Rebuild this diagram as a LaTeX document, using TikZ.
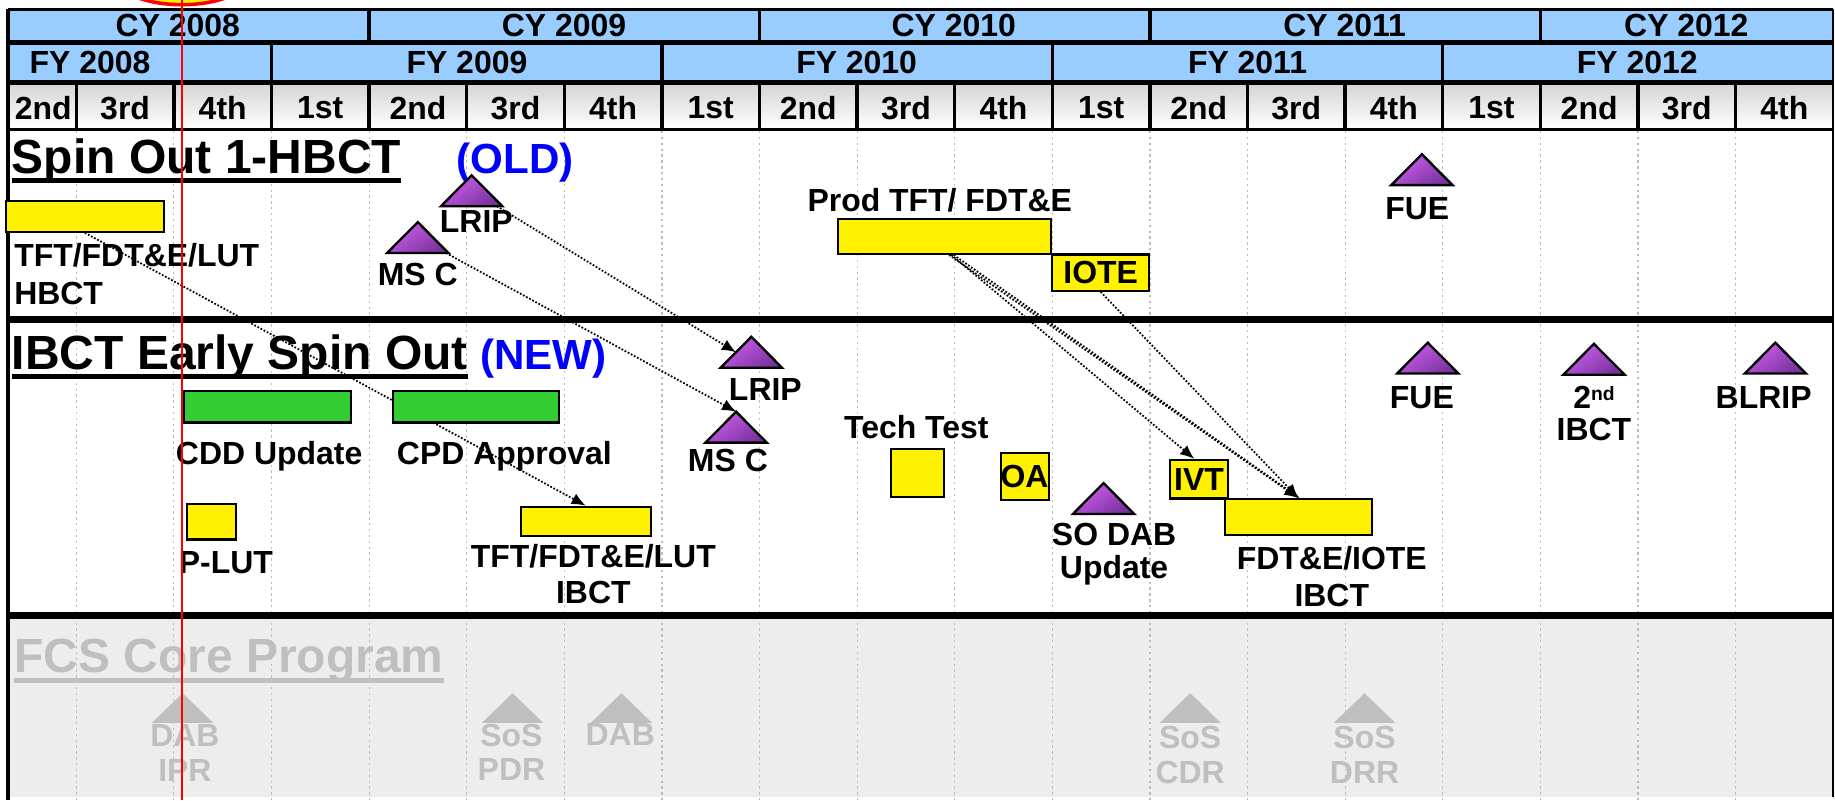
\documentclass[tikz,border=0pt]{standalone}
\usepackage{fontspec}
\setmainfont{Liberation Sans}
\usetikzlibrary{calc}
\usetikzlibrary{arrows.meta}
\usetikzlibrary{backgrounds}

\definecolor{hdrblue}{RGB}{153,204,255}
\definecolor{qgrey}{RGB}{212,212,212}
\definecolor{bargreen}{RGB}{51,204,51}
\definecolor{msTop}{RGB}{205,95,240}
\definecolor{msBot}{RGB}{120,50,155}
\definecolor{fcsgrey}{RGB}{191,191,191}
\definecolor{fcsback}{RGB}{237,237,237}
\definecolor{gridgrey}{RGB}{190,190,190}

\tikzset{
  hdr/.style={font=\fontsize{27.3}{31}\selectfont\bfseries, inner sep=0},
  lbl/.style={font=\fontsize{27.3}{31}\selectfont\bfseries, align=center, inner sep=0, anchor=north},
  ttl/.style={font=\fontsize{41}{48}\selectfont\bfseries, inner sep=0, anchor=base west},
  tag/.style={font=\fontsize{36}{42}\selectfont\bfseries, inner sep=0, anchor=base west, text=blue},
  uline/.style={line width=4pt},
  bar/.style={draw, line width=1.8pt, inner sep=0, fill=yellow, font=\fontsize{27.3}{31}\selectfont\bfseries},
  mbox/.style={inner sep=0, minimum width=52pt, minimum height=26pt},
  mstone/.style={draw, line width=2pt, top color=msTop, bottom color=msBot, shading angle=35},
  gbox/.style={inner sep=0, minimum width=52pt, minimum height=25pt},
  link/.style={line width=1.5pt, dash pattern=on 1.5pt off 1.5pt, -{Latex[length=12pt,width=10pt]}},
  qline/.style={gridgrey, line width=1pt, dash pattern=on 2pt off 3pt},
}

\begin{document}
\begin{tikzpicture}[x=1pt, y=-1pt]
\useasboundingbox (0,0) rectangle (1568,684);

% header
\fill[hdrblue] (8,8) rectangle (1566,36);
\fill[hdrblue] (8,37) rectangle (1566,70);
\shade[top color=qgrey, bottom color=white] (8,71) rectangle (1566,110);
\draw[line width=2pt] (7,8) -- (1566,8);
\draw[line width=4pt] (7,36.5) -- (1566,36.5);
\draw[line width=5pt] (7,70.5) -- (1566,70.5);
\draw[line width=3pt] (7,110.5) -- (1566,110.5);
\foreach \i in {1,5,9,13}
  \draw[line width=3pt] ({232+83.4*\i},8) -- ({232+83.4*\i},36.5);
\foreach \i in {0,4,8,12}
  \draw[line width=3pt] ({232+83.4*\i},36.5) -- ({232+83.4*\i},70.5);
\foreach \i in {-2,...,15}
  \draw[line width=3pt] ({232+83.4*\i},70.5) -- ({232+83.4*\i},110.5);
\draw[line width=3pt] (7,8) -- (7,684);
\draw[line width=1.5pt] (1566,8) -- (1566,681);

\foreach \y/\x in {2008/152,2009/482,2010/815,2011/1149,2012/1441}
  \node[hdr] (cy\y) at (\x,21.5) {CY \y};
\foreach \y/\x in {2008/77,2009/399,2010/732,2011/1066,2012/1399}
  \node[hdr] (fy\y) at (\x,53.5) {FY \y};
\node[hdr] (q-3) at (37,92) {2nd};
\foreach \q [count=\i from -2] in {3rd,4th,1st,2nd,3rd,4th,1st,2nd,3rd,4th,1st,2nd,3rd,4th,1st,2nd,3rd,4th}
  \node[hdr] (q\i) at ({273.7+83.4*\i},92) {\q};

% sections
\draw[line width=6pt] (7,273) -- (1566,273);
\draw[line width=6pt] (7,526) -- (1566,526);

\node[ttl] (spin) at (10,148) {Spin Out 1-HBCT};
\draw[uline] ([yshift=-6pt]spin.base west) -- ([yshift=-6pt]spin.base east);
\node[tag] (old) at (390,148) {(OLD)};
\node[ttl] (early) at (10,316) {IBCT Early Spin Out};
\draw[uline] ([yshift=-6pt]early.base west) -- ([yshift=-6pt]early.base east);
\node[tag] (new) at (410,316) {(NEW)};
\node[ttl, text=fcsgrey] (fcs) at (12,575) {FCS Core Program};
\draw[uline, fcsgrey] ([yshift=-6.5pt]fcs.base west) -- ([yshift=-6.5pt]fcs.base east);

% bars
\node[bar, minimum width=135pt, minimum height=26pt] (tftA) at (72.5,185) {};
\node[bar, minimum width=182pt, minimum height=30pt] (prod) at (807,202) {};
\node[bar, minimum width=83pt, minimum height=31pt] (iote) at (940.5,233) {IOTE};
\node[bar, fill=bargreen, minimum width=143pt, minimum height=27pt] (cdd) at (228.5,347.5) {};
\node[bar, fill=bargreen, minimum width=142pt, minimum height=27pt] (cpd) at (407,347.5) {};
\node[bar, minimum width=42pt, minimum height=30pt] (plut) at (181,446) {};
\node[bar, minimum width=111pt, minimum height=25pt] (tftB) at (500.5,445.5) {};
\node[bar, minimum width=46pt, minimum height=41pt] (tech) at (784,404) {};
\node[bar, minimum width=37pt, minimum height=40pt] (oa) at (875.5,407) {OA};
\node[bar, minimum width=49pt, minimum height=33pt] (ivt) at (1024.5,409.5) {IVT};
\node[bar, minimum width=125pt, minimum height=31pt] (fdt) at (1109.5,442) {};

% milestones
\foreach \n/\x/\y in {lripA/403/163, mscA/357/203, fueA/1215/145, lripB/642/301, mscB/629/365,
    sodab/943/426, fueB/1220/306, ibct2/1362/307, blrip/1517/306} {
  \node[mbox] (\n) at (\x,\y) {};
  \path[mstone] (\n.south west) -- (\n.north) -- (\n.south east) -- cycle;
}
\foreach \n/\x in {dabA/156, sosP/438, dabB/531, sosC/1017, sosD/1166} {
  \node[gbox] (\n) at (\x,605) {};
  \fill[fcsgrey] (\n.south west) -- (\n.north) -- (\n.south east) -- cycle;
}

% labels
\node[lbl, align=left, anchor=north west] (tftAl) at (12,208) {TFT/FDT\&E/LUT\\[1pt]HBCT};
\node[lbl] (lripAl) at (407,180) {LRIP};
\node[lbl] (mscAl) at (357,225) {MS C};
\node[lbl] (prodl) at (803,161) {Prod TFT/ FDT\&E};
\node[lbl] (fueAl) at (1211,169) {FUE};
\node[lbl] (cddl) at (230,377) {CDD Update};
\node[lbl] (cpdl) at (431,377) {CPD Approval};
\node[lbl] (plutl) at (193,471) {P-LUT};
\node[lbl] (tftBl) at (507,465) {TFT/FDT\&E/LUT\\IBCT};
\node[lbl] (lripBl) at (654,323) {LRIP};
\node[lbl] (mscBl) at (622,384) {MS C};
\node[lbl] (techl) at (783,355) {Tech Test};
\node[lbl] (sodabl) at (952,447) {SO DAB\\[-3pt]Update};
\node[lbl] (fdtl) at (1138,467) {FDT\&E/IOTE\\IBCT};
\node[lbl] (fueBl) at (1215,330) {FUE};
\node[lbl] (ibct2l) at (1362,330) {2\raisebox{7pt}{\fontsize{16.5}{18}\selectfont nd}\\[-3.5pt]IBCT};
\node[lbl] (blripl) at (1507,330) {BLRIP};
\node[lbl, text=fcsgrey] (dabAl) at (158,618.5) {DAB\\[-1pt]IPR};
\node[lbl, text=fcsgrey] (sosPl) at (437,619) {SoS\\[-2pt]PDR};
\node[lbl, text=fcsgrey] (dabBl) at (530,618) {DAB};
\node[lbl, text=fcsgrey] (sosCl) at (1017,620) {SoS\\[-1pt]CDR};
\node[lbl, text=fcsgrey] (sosDl) at (1166,620) {SoS\\[-1pt]DRR};

\begin{scope}[on background layer]
\fill[fcsback] (8,529) rectangle (1566,681);
\foreach \i in {-2,...,15}
  \draw[qline] ({232+83.4*\i},112) -- ({232+83.4*\i},684);
% links
\draw[link] (tftA.south) -- (tftB.north);
\draw[link] (lripA) -- ($(lripB.south west)!.5!(lripB.north)$);
\draw[link] (mscA) -- (mscB.north);
\draw[link] ([xshift=6pt]prod.south) -- ([xshift=-4pt]ivt.north);
\draw[link] ([xshift=4pt]prod.south) -- (fdt.north);
\draw[link] ([xshift=8pt]prod.south) -- ([xshift=1pt]fdt.north);
\draw[link] (iote.south) -- (fdt.north);
\end{scope}

% status line
\draw[red, line width=3pt, fill=yellow] (155.5,-18) ellipse [x radius=55pt, y radius=22pt];
\draw[red, line width=2pt] (155.5,0) -- (155.5,684);
\end{tikzpicture}
\end{document}
